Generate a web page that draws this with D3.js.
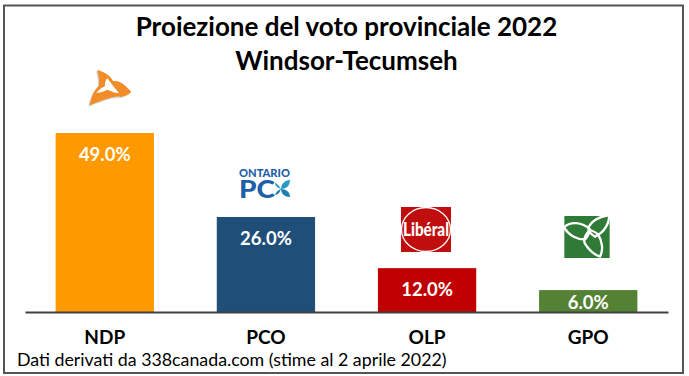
<!DOCTYPE html>
<html><head><meta charset="utf-8">
<script src="https://cdn.jsdelivr.net/npm/d3@7"></script>
<style>html,body{margin:0;padding:0;background:#fff}svg{display:block}text{font-family:Lato,"Open Sans",sans-serif}</style>
</head><body><svg id="c" width="689" height="376"></svg>
<script>
const categories=["NDP","PCO","OLP","GPO"];
const values=[49,26,12,6];
const colors=["#ff9900","#1f4e79","#c00000","#548235"];
const titleLines=["Proiezione del voto provinciale 2022","Windsor-Tecumseh"];
const source="Dati derivati da 338canada.com (stime al 2 aprile 2022)";

const svg=d3.select("#c");
svg.append("rect").attr("x",4).attr("y",5.5).attr("width",679).attr("height",367.5)
  .attr("fill","#fff").attr("stroke","#555").attr("stroke-width",2);

svg.selectAll("text.t").data(titleLines).join("text").attr("class","t")
  .attr("x",346.5).attr("y",(d,i)=>36+i*34).attr("text-anchor","middle")
  .attr("font-size",26).attr("font-weight",700).attr("fill","#000").text(d=>d);

const x=d3.scaleBand().domain(categories).range([25,668]).paddingInner(0.39).paddingOuter(0.19);
const y=d3.scaleLinear().domain([0,49]).range([312,133]);

svg.selectAll("rect.b").data(categories).join("rect").attr("class","b")
  .attr("x",d=>x(d)).attr("width",x.bandwidth())
  .attr("y",(d,i)=>y(values[i])).attr("height",(d,i)=>y(0)-y(values[i]))
  .attr("fill",(d,i)=>colors[i]);

svg.selectAll("text.v").data(categories).join("text").attr("class","v")
  .attr("x",d=>x(d)+x.bandwidth()/2).attr("y",(d,i)=>Math.min(y(values[i])+28,y(0)-3))
  .attr("text-anchor","middle").attr("font-size",18.5).attr("font-weight",700).attr("fill","#fff")
  .text((d,i)=>values[i].toFixed(1)+"%");

const ax=svg.append("g").attr("transform","translate(0,312)").call(d3.axisBottom(x).tickSize(0).tickPadding(18.5));
ax.select(".domain").attr("stroke","#404040").attr("stroke-width",2);
ax.selectAll("text").attr("font-size",19).attr("font-weight",700).attr("fill","#000")
  .style("font-family",'Lato,"Open Sans",sans-serif');

svg.append("text").attr("x",17).attr("y",366).attr("font-size",17.8).attr("fill","#000").text(source);

// party logos (hand-drawn emblems)
const n=svg.append("g").attr("transform","translate(108,88) scale(0.3333)");
const ndpOuter="M-32,-55 C-5,-45 10,-35 15,-20 C35,-25 55,-5 70,12 C55,25 40,28 30,25 C5,28 -25,40 -55,52 C-50,30 -45,10 -27,-7 C-25,-20 -27,-35 -32,-55Z";
n.append("path").attr("d",ndpOuter).attr("fill","#b9b0a5").attr("transform","translate(-4,4)").attr("opacity",0.6);
n.append("path").attr("d",ndpOuter).attr("fill","#f28c28");
n.append("path").attr("d","M-2,-30 C8,-15 20,0 33,15 C20,17 10,8 -2,5 C-10,8 -20,14 -35,15 C-25,3 -15,-3 -9,-5 C-10,-15 -8,-22 -2,-30Z").attr("fill","#fff");

const p=svg.append("text").attr("fill","#1f5fa8").attr("font-weight",900);
p.append("tspan").attr("x",239).attr("y",177).attr("font-size",10.5).attr("textLength",51).attr("lengthAdjust","spacingAndGlyphs").text("ONTARIO");
p.append("tspan").attr("x",239).attr("y",197.5).attr("font-size",24).attr("textLength",36).attr("lengthAdjust","spacingAndGlyphs").text("PC");
const leaves=svg.append("g").attr("transform","translate(281,189)");
[["M0,0 C0,-5 4,-9 9,-9 C9,-4 6,0 0,0Z","#2a9cc4"],["M0,0 C5,0 9,3 9,8 C4,8 0,5 0,0Z","#1c7fb0"],
 ["M0,0 C-2,-3 -4,-6 -6,-6 C-6,-3 -3,-1 0,0Z","#2a9cc4"],["M0,0 C-3,1 -5,3 -6,6 C-3,6 -1,3 0,0Z","#1c7fb0"]]
 .forEach(([d,c])=>leaves.append("path").attr("d",d).attr("fill",c));

const l=svg.append("g").attr("transform","translate(426,229.5)");
l.append("rect").attr("x",-25).attr("y",-22.5).attr("width",50).attr("height",45).attr("fill","#c00d0d");
l.append("ellipse").attr("rx",24.5).attr("ry",22).attr("fill","none").attr("stroke","#fff").attr("stroke-width",1.3);
l.append("text").attr("x",-23).attr("y",6).attr("font-size",18).attr("font-weight",900).attr("fill","#fff")
  .attr("textLength",46).attr("lengthAdjust","spacingAndGlyphs").text("Libéral");

const g=svg.append("g").attr("transform","translate(587,237) scale(0.3333)");
g.append("rect").attr("x",-68).attr("y",-63).attr("width",136).attr("height",126).attr("fill","#2f7a36");
["M-69,-29 C-50,-48 -15,-45 9,-23 C6,-10 0,3 -6,7 C-30,8 -55,-5 -69,-29Z",
 "M4,-26 C10,-45 35,-62 66,-66 C68,-45 55,-15 24,-1 C12,-8 4,-16 4,-26Z",
 "M9,-21 C-5,-10 -12,10 -6,20 C5,40 25,55 39,59 C50,40 45,10 34,-6 C28,-14 18,-18 9,-21Z"].forEach(d=>
  g.append("path").attr("d",d).attr("fill","none").attr("stroke","#fff").attr("stroke-width",7));
</script></body></html>
